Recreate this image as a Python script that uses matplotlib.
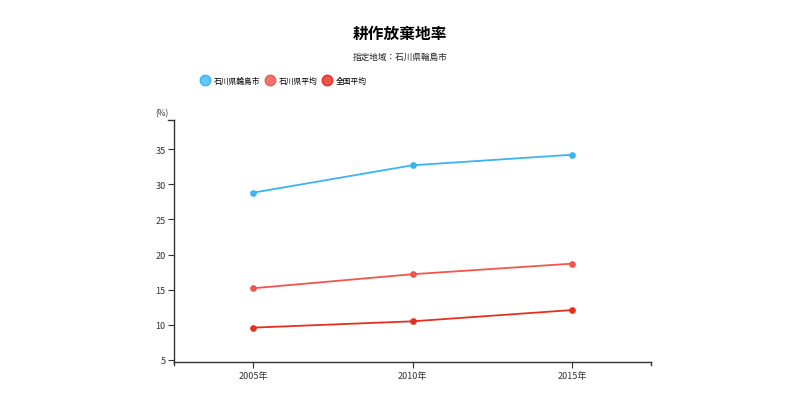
import matplotlib
matplotlib.use("Agg")
import matplotlib.pyplot as plt
from matplotlib.lines import Line2D

plt.rcParams['font.family'] = ['Noto Sans CJK JP', 'DejaVu Sans']

years = [2005, 2010, 2015]
year_labels = ['2005年', '2010年', '2015年']
series_names = ['石川県輪島市', '石川県平均', '全国平均']
wajima = [28.8, 32.7, 34.2]
ishikawa = [15.2, 17.2, 18.7]
national = [9.6, 10.5, 12.1]
yticks = [5, 10, 15, 20, 25, 30, 35]

line_colors = ['#3bb4f2', '#f2554c', '#e5301f']
face_colors = ['#62c8f8', '#f4756e', '#e8564b']

fig = plt.figure(figsize=(8, 4.14), dpi=100)
ax = fig.add_axes([0.2175, 0.1225, 0.59625, 0.5852])

for vals, lc in zip([wajima, ishikawa, national], line_colors):
    ax.plot(years, vals, color=lc, lw=1.3, marker='o', ms=3.8,
            markerfacecolor=lc, markeredgecolor=lc, zorder=3)

ax.set_xlim(2002.52, 2017.48)
ax.set_ylim(4.67, 39.14)
ax.set_xticks(years)
ax.set_xticklabels(year_labels)
ax.set_yticks(yticks)

for s in ['top', 'right']:
    ax.spines[s].set_visible(False)
for s in ['left', 'bottom']:
    ax.spines[s].set_color('#333333')
    ax.spines[s].set_linewidth(1.0)
ax.tick_params(axis='both', labelsize=6.5, colors='#333333', length=4, width=0.8, pad=2)
# end ticks of the axes like a d3 domain path
ax.plot([0, 0], [0, -0.012], transform=ax.transAxes, color='#333333', lw=1.0, clip_on=False)
ax.plot([1, 1], [0, -0.012], transform=ax.transAxes, color='#333333', lw=1.0, clip_on=False)
ax.plot([0, -0.012], [1, 1], transform=ax.transAxes, color='#333333', lw=1.0, clip_on=False)

fig.text(162 / 800, 1 - 114 / 414, '(%)', fontsize=6, ha='center', va='center', color='#333333')

fig.text(0.5, 1 - 34 / 414, '耕作放棄地率', fontsize=11.3, fontweight='bold', ha='center', va='center')
fig.text(0.5, 1 - 57 / 414, '指定地域：石川県輪島市', fontsize=6.2, ha='center', va='center', color='#222222')

handles = [Line2D([], [], ls='none', marker='o', ms=7.5, markerfacecolor=fc,
                  markeredgecolor=lc, markeredgewidth=1.0)
           for fc, lc in zip(face_colors, line_colors)]
fig.legend(handles, series_names, loc='center left', bbox_to_anchor=(201 / 800, 1 - 82 / 414),
           ncol=3, frameon=False, fontsize=5.6, handletextpad=0.6, columnspacing=0.8,
           handlelength=1.0, borderaxespad=0, borderpad=0)

fig.savefig('out.png', dpi=100)
